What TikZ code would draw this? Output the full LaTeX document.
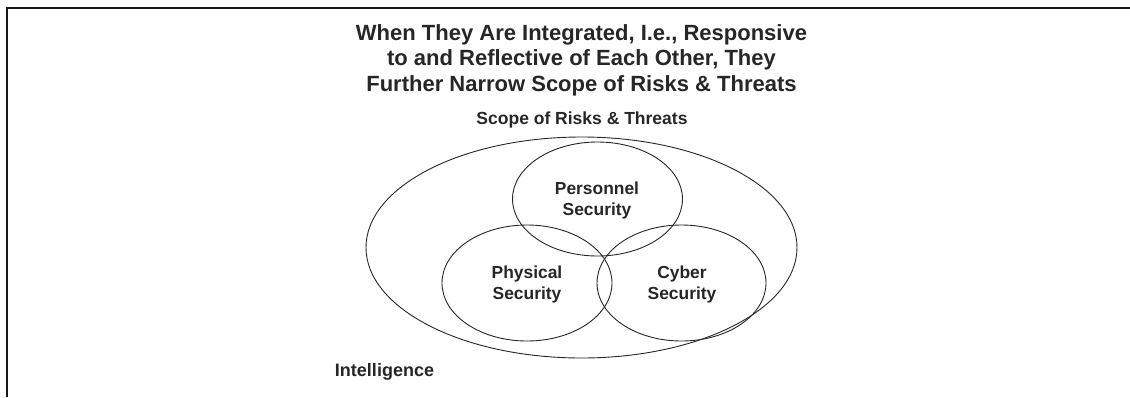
\documentclass[tikz,border=0pt]{standalone}
\usepackage{fontspec}
\setmainfont{Liberation Sans}
\usetikzlibrary{shapes.geometric}
\begin{document}
\begin{tikzpicture}[x=1bp,y=-1bp,
  ring/.style={draw=black!85,line width=0.9bp,ellipse,inner sep=0pt},
  lbl/.style={font=\fontsize{17.4bp}{21bp}\selectfont\bfseries,text=black!85,align=center,inner sep=0pt},
  ttl/.style={font=\fontsize{22bp}{25.5bp}\selectfont\bfseries,text=black!85,align=center,inner sep=0pt}]
\useasboundingbox (0,0) rectangle (1130,397);
\coordinate (tl) at (7,8);
\coordinate (tr) at (1130,8);
\coordinate (bl) at (7,397);
\draw[line width=2.7bp,black!90] (tr) -- (tl) -- (bl);
\node[ttl] (title) at (581.5,60) {When They Are Integrated, I.e., Responsive\\to and Reflective of Each Other, They\\Further Narrow Scope of Risks \& Threats};
\node[lbl,font=\fontsize{17.5bp}{20bp}\selectfont\bfseries] (scope) at (582,120) {Scope of Risks \& Threats};
\node[ring,minimum width=431bp,minimum height=221bp] (intel) at (581.5,247.5) {};
\node[ring,minimum width=170bp,minimum height=114bp] (pers) at (597.5,199) {};
\node[ring,minimum width=170bp,minimum height=116bp] (phys) at (527,283) {};
\node[ring,minimum width=169bp,minimum height=116bp] (cyber) at (681.5,283) {};
\node[lbl] (perst) at (597,200) {Personnel\\Security};
\node[lbl] (physt) at (527,284) {Physical\\Security};
\node[lbl] (cybert) at (682,284) {Cyber\\Security};
\node[lbl,font=\fontsize{18bp}{20bp}\selectfont\bfseries] (intelt) at (384.5,372) {Intelligence};
\end{tikzpicture}
\end{document}
